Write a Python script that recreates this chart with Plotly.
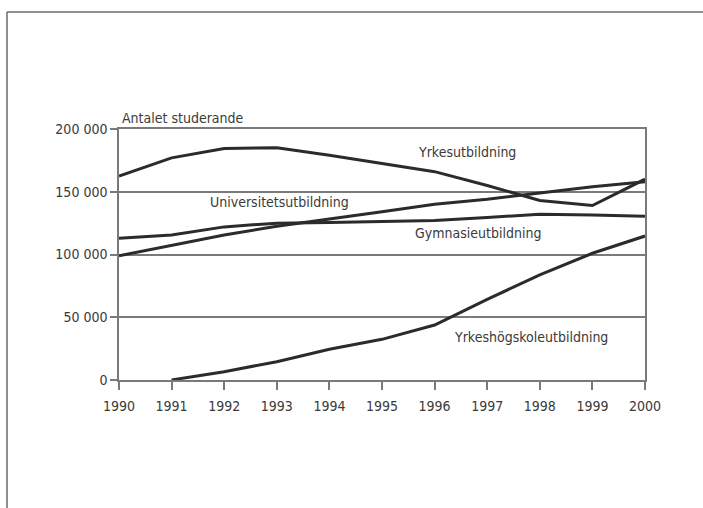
import plotly.graph_objects as go

# Antalet studerande per utbildningsform, 1990–2000
years = [1990, 1991, 1992, 1993, 1994, 1995, 1996, 1997, 1998, 1999, 2000]

yrkesutbildning = [162500, 177000, 184500, 185000, 179000, 172500, 166000, 155000, 143000, 139000, 160000]
universitetsutbildning = [99000, 107000, 115500, 122500, 128000, 134000, 140000, 144000, 149000, 154000, 158000]
gymnasieutbildning = [113000, 115500, 122000, 125000, 125500, 126500, 127000, 129500, 132000, 131500, 130500]
yh_years = [1991, 1992, 1993, 1994, 1995, 1996, 1997, 1998, 1999, 2000]
yrkeshogskoleutbildning = [0, 6600, 14600, 24500, 32400, 43800, 64300, 83700, 101000, 114700]

y_ticks = [0, 50000, 100000, 150000, 200000]
y_ticktext = ["0", "50 000", "100 000", "150 000", "200 000"]

FONT = "Liberation Sans Narrow, DejaVu Sans Condensed, Arial Narrow, sans-serif"
TEXT = "#3a3a3a"
LINE = "#2b2b2b"
GRID = "#7a7a7a"

W, H = 703, 508
ML, MR, MT, MB = 119, 58, 129, 128
pw, ph = W - ML - MR, H - MT - MB

fig = go.Figure()
series = [
    (years, yrkesutbildning),
    (years, universitetsutbildning),
    (years, gymnasieutbildning),
    (yh_years, yrkeshogskoleutbildning),
]
for xs, ys in series:
    fig.add_trace(go.Scatter(x=xs, y=ys, mode="lines",
                             line=dict(color=LINE, width=3),
                             showlegend=False, hoverinfo="skip", cliponaxis=False))

# series names written next to their lines
labels = [
    ("Yrkesutbildning", 1995.64, 181400),
    ("Universitetsutbildning", 1991.69, 142000),
    ("Gymnasieutbildning", 1995.58, 117400),
    ("Yrkeshögskoleutbildning", 1996.34, 34500),
]
for txt, x, y in labels:
    fig.add_annotation(x=x, y=y, text=txt, showarrow=False, xanchor="left", yanchor="middle",
                       font=dict(family=FONT, size=14, color=TEXT))

fig.add_annotation(x=0, y=1, xref="paper", yref="paper", text="Antalet studerande",
                   showarrow=False, xanchor="left", yanchor="bottom", xshift=1, yshift=1,
                   font=dict(family=FONT, size=14, color=TEXT))

# outer frame: top and left border of the page
fx0 = (7 - ML) / pw
fx1 = (W - ML) / pw
fy_top = (H - MB - 12) / ph
fy_bot = (H - MB - H) / ph
fig.add_shape(type="line", xref="paper", yref="paper", x0=fx0, x1=fx1, y0=fy_top, y1=fy_top,
              line=dict(color="#6a6a6a", width=1.5))
fig.add_shape(type="line", xref="paper", yref="paper", x0=fx0, x1=fx0, y0=fy_top, y1=fy_bot,
              line=dict(color="#6a6a6a", width=1.5))

fig.update_xaxes(range=[1990, 2000], tickmode="array", tickvals=years,
                 ticks="outside", ticklen=8, tickwidth=1.5, tickcolor=GRID,
                 showgrid=False, zeroline=False, showline=True, linecolor=GRID, linewidth=1.5,
                 mirror=True, ticklabelstandoff=4,
                 tickfont=dict(family=FONT, size=14, color=TEXT))
fig.update_yaxes(range=[0, 200000], tickmode="array", tickvals=y_ticks, ticktext=y_ticktext,
                 ticks="outside", ticklen=7, tickwidth=1.5, tickcolor=GRID,
                 showgrid=True, gridcolor=GRID, gridwidth=1.5, zeroline=False,
                 showline=True, linecolor=GRID, linewidth=1.5, mirror=True,
                 tickfont=dict(family=FONT, size=14, color=TEXT))

fig.update_layout(width=W, height=H, margin=dict(l=ML, r=MR, t=MT, b=MB),
                  paper_bgcolor="white", plot_bgcolor="white")

fig.write_html("out.html")
